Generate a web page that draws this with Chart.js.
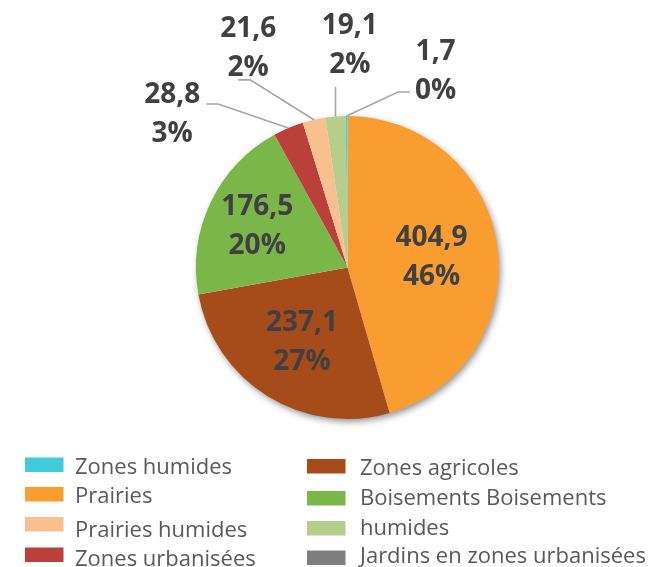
<!DOCTYPE html>
<html>
<head>
<meta charset="utf-8">
<script src="https://cdn.jsdelivr.net/npm/chart.js@4.4.1/dist/chart.umd.min.js"></script>
<style>
    html, body { margin: 0; padding: 0; background: #fff; }
    #wrap { width: 654px; height: 567px; }
</style>
</head>
<body>
<div id="wrap"><canvas id="pie" width="654" height="567"></canvas></div>
<script>
// slices in the order they are drawn, clockwise from the top
const categories = ['Prairies', 'Zones agricoles', 'Boisements', 'Zones urbanisées',
    'Prairies humides', 'Boisements humides', 'Zones humides', 'Jardins en zones urbanisées'];
const values = [404.9, 237.1, 176.5, 28.8, 21.6, 19.1, 1.7, 0];
const colors = ['#F99D31', '#A64B1A', '#7BB649', '#B9413A', '#F9C08F', '#B6CE8A', '#40CBD8', '#7F7F7F'];

// legend as shown in the picture (two columns of four)
const legendOrder = [6, 0, 4, 3, 1, 2, 5, 7];
const legendText = ['Zones humides', 'Prairies', 'Prairies humides', 'Zones urbanisées',
    'Zones agricoles', 'Boisements Boisements', 'humides', 'Jardins en zones urbanisées'];

// label placement: d = distance in radii, a = angle (deg clockwise from top) for outside labels
const labelPlace = [
    { d: 0.56 }, { d: 0.57 }, { d: 0.66 },
    { a: 311.5, d: 1.545 }, { a: 335.8, d: 1.6 }, { a: 0.6, d: 1.48 }, { a: 24, d: 1.43 },
    null,
];

const total = values.reduce((s, v) => s + v, 0);

function fmt(v) {
    return v.toFixed(1).replace('.', ',');
}

const shadowPlugin = {
    id: 'pieShadow',
    beforeDatasetsDraw(chart) {
        const arc = chart.getDatasetMeta(0).data[0];
        const ctx = chart.ctx;
        ctx.save();
        ctx.shadowColor = 'rgba(0,0,0,0.45)';
        ctx.shadowBlur = 7;
        ctx.shadowOffsetX = 2;
        ctx.shadowOffsetY = 3;
        ctx.fillStyle = '#fff';
        ctx.beginPath();
        ctx.arc(arc.x, arc.y, arc.outerRadius - 0.5, 0, Math.PI * 2);
        ctx.fill();
        ctx.restore();
    },
};

const labelPlugin = {
    id: 'sliceLabels',
    afterDatasetsDraw(chart) {
        const ctx = chart.ctx;
        const meta = chart.getDatasetMeta(0);
        ctx.save();
        ctx.font = 'bold 28px "Open Sans"';
        ctx.textAlign = 'center';
        ctx.textBaseline = 'alphabetic';
        meta.data.forEach((arc, i) => {
            const place = labelPlace[i];
            if (!place || !values[i]) return;
            const p = arc.getProps(['x', 'y', 'outerRadius', 'startAngle', 'endAngle'], true);
            const mid = (p.startAngle + p.endAngle) / 2;
            const ang = place.a == null ? mid : (place.a - 90) * Math.PI / 180;
            const lx = p.x + Math.cos(ang) * p.outerRadius * place.d;
            const ly = p.y + Math.sin(ang) * p.outerRadius * place.d;
            const line1 = fmt(values[i]);
            const line2 = Math.round(values[i] / total * 100) + '%';

            if (place.a != null) {
                // leader line from the slice edge to the label box
                const w = Math.max(ctx.measureText(line1).width, ctx.measureText(line2).width);
                const box = { l: lx - w / 2, r: lx + w / 2, t: ly - 29.5, b: ly + 29.5 };
                const px = p.x + Math.cos(mid) * p.outerRadius;
                const py = p.y + Math.sin(mid) * p.outerRadius;
                const s = px > lx ? 1 : -1;
                let pts;
                if (px >= box.l && px <= box.r) {
                    pts = [[px, box.b + 14], [px, py]];
                } else if (py > box.b + 30) {
                    pts = [[lx - 10 * s, box.b + 4], [lx + 2 * s, box.b + 4], [px, py]];
                } else {
                    const ex = s > 0 ? box.r + 6 : box.l - 5;
                    const ey = Math.min(Math.max(py - 24, box.t + 0.33 * (box.b - box.t)), box.b);
                    pts = [[ex, ey], [ex + 12 * s, ey], [px, py]];
                }
                ctx.strokeStyle = '#A6A6A6';
                ctx.lineWidth = 1.6;
                ctx.beginPath();
                pts.forEach(([x, y], k) => (k ? ctx.lineTo(x, y) : ctx.moveTo(x, y)));
                ctx.stroke();
            }

            ctx.fillStyle = '#404040';
            ctx.fillText(line1, lx, ly - 19.5 + 10);
            ctx.fillText(line2, lx, ly + 19.5 + 10);
        });
        ctx.restore();
    },
};

const legendPlugin = {
    id: 'columnLegend',
    afterDraw(chart) {
        const ctx = chart.ctx;
        const swatchX = [25, 307];
        const textX = [75, 360];
        const swatchTop = [[457.5, 487, 517, 547.5], [459, 491, 521, 550.5]];
        const baseline = [[474, 503, 537, 566], [475, 505, 535, 563]];
        ctx.save();
        ctx.font = '22px "Open Sans"';
        ctx.textAlign = 'left';
        ctx.textBaseline = 'alphabetic';
        legendOrder.forEach((idx, k) => {
            const col = k < 4 ? 0 : 1;
            const row = k % 4;
            ctx.fillStyle = colors[idx];
            ctx.fillRect(swatchX[col], swatchTop[col][row], 38.5, 14.5);
            ctx.fillStyle = '#595959';
            ctx.fillText(legendText[k], textX[col], baseline[col][row]);
        });
        ctx.restore();
    },
};

new Chart(document.getElementById('pie'), {
    type: 'pie',
    data: {
        labels: categories,
        datasets: [{
            data: values,
            backgroundColor: colors,
            borderWidth: 0,
        }],
    },
    options: {
        responsive: false,
        animation: false,
        layout: { padding: { left: 196, right: 155, top: 116, bottom: 148 } },
        plugins: {
            legend: { display: false },
            tooltip: { enabled: false },
        },
    },
    plugins: [shadowPlugin, labelPlugin, legendPlugin],
});
</script>
</body>
</html>
